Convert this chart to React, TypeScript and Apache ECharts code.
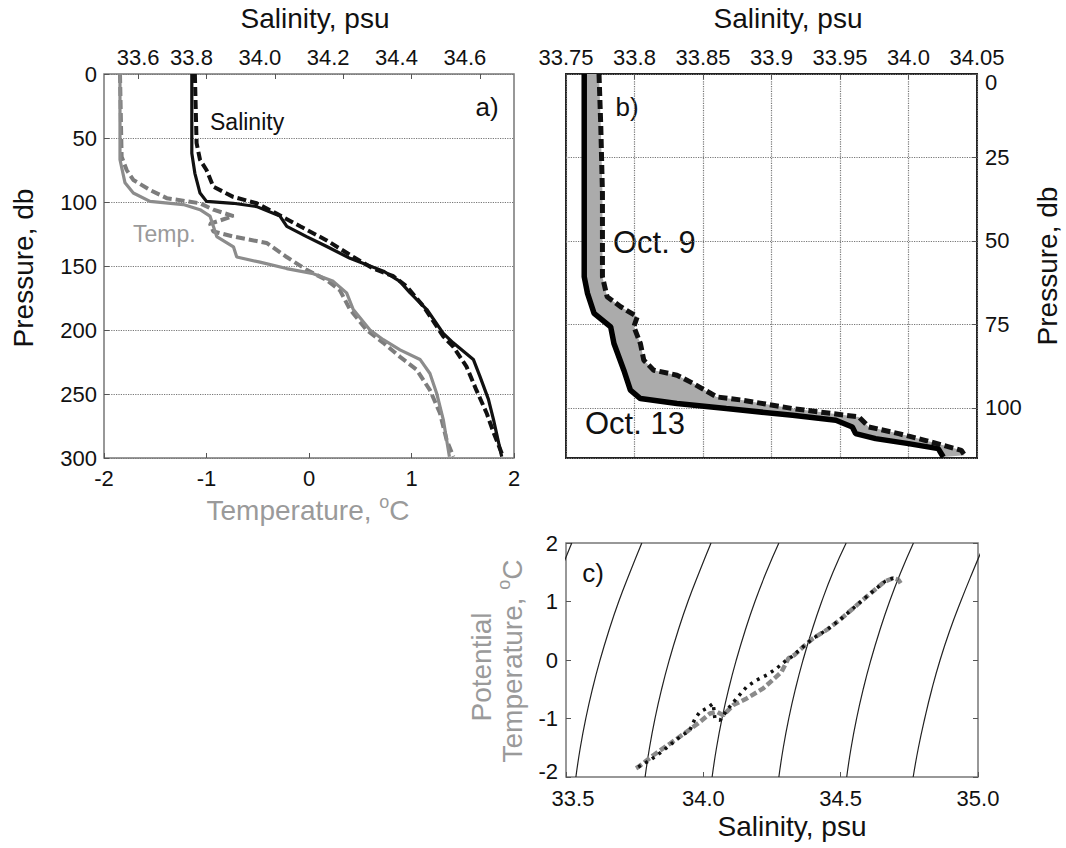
import React, { useEffect, useRef } from "react";
import * as echarts from "echarts";

// ---------- Panel a: profiles vs pressure ----------
const SAL_SOLID_A: number[][] = [
  [33.757, 0], [33.757, 62], [33.766, 77.6], [33.781, 93], [33.8, 99.5], [33.878, 101], [33.947, 103.6],
  [34.015, 111], [34.035, 119], [34.093, 127], [34.152, 134.8], [34.22, 144], [34.269, 149], [34.318, 154],
  [34.366, 162], [34.396, 171], [34.445, 184], [34.493, 202.6], [34.522, 210], [34.581, 223], [34.6, 236],
  [34.625, 254], [34.64, 270], [34.664, 299],
];
const SAL_DASHED_A: number[][] = [
  [33.766, 0], [33.771, 54], [33.781, 67], [33.8, 75], [33.82, 88], [33.878, 96], [33.947, 101],
  [34.005, 109], [34.074, 119], [34.152, 130], [34.23, 143], [34.288, 152], [34.347, 158], [34.386, 166],
  [34.435, 181.5], [34.493, 205], [34.522, 213], [34.561, 228.6], [34.59, 247], [34.62, 265], [34.64, 280],
  [34.668, 299],
];
const TEMP_SOLID_A: number[][] = [
  [-1.844, 0], [-1.844, 67], [-1.795, 85], [-1.714, 93], [-1.551, 99.5], [-1.226, 102], [-1.063, 106],
  [-0.966, 111], [-0.933, 119], [-0.9, 127], [-0.737, 135], [-0.705, 143], [-0.478, 147], [-0.218, 152],
  [0.042, 156], [0.237, 162], [0.367, 171], [0.432, 184], [0.595, 200], [0.725, 207.6], [0.888, 215.5],
  [1.083, 223], [1.18, 234], [1.246, 249.6], [1.31, 270], [1.343, 286], [1.37, 299],
];
const TEMP_DASHED_A: number[][] = [
  [-1.844, 0], [-1.828, 64.6], [-1.779, 75], [-1.714, 82.8], [-1.551, 90.6], [-1.388, 97], [-1.063, 101],
  [-0.933, 106], [-0.737, 111], [-0.966, 117], [-0.933, 123], [-0.737, 127], [-0.414, 132], [-0.218, 143],
  [-0.023, 153], [0.172, 161], [0.302, 169], [0.4, 184], [0.563, 200], [0.725, 210], [0.888, 221],
  [1.05, 231], [1.18, 247], [1.278, 265], [1.343, 286], [1.408, 299],
];
const SAL_TICKS_A = [33.6, 33.8, 34.0, 34.2, 34.4, 34.6];

// ---------- Panel b: salinity profiles, upper 115 db ----------
const OCT13_B: number[][] = [
  [33.7633, 0], [33.7633, 60.7], [33.7657, 65.7], [33.7705, 71.7], [33.7826, 75.7], [33.785, 80.7],
  [33.7922, 88.7], [33.797, 94.7], [33.8043, 97.2], [33.831, 98.7], [33.867, 100.2], [33.9154, 102.2],
  [33.947, 103.7], [33.959, 105.7], [33.9614, 107.7], [33.976, 109.2], [34.0, 110.7], [34.0217, 112.2],
  [34.0254, 114.7],
];
const OCT9_B: number[][] = [
  [33.7741, 0], [33.7754, 15.7], [33.7766, 35.7], [33.7766, 60.7], [33.78, 66.7], [33.7899, 69.7],
  [33.802, 72.7], [33.7995, 75.7], [33.8043, 80.7], [33.8068, 85.7], [33.814, 88.7], [33.831, 90.2],
  [33.843, 92.7], [33.86, 96.7], [33.8792, 97.7], [33.9154, 100.2], [33.9638, 102.7], [33.971, 105.7],
  [33.9928, 107.7], [34.012, 109.7], [34.0386, 112.7], [34.041, 114.2],
];

// ---------- Panel c: T-S diagram ----------
const ISO_T = [-2, -1.5, -1, -0.5, 0, 0.5, 1, 1.5, 2];
const ISO_S: number[][] = [
  [33.281, 33.297, 33.317, 33.341, 33.369, 33.401, 33.437, 33.478, 33.521],
  [33.536, 33.552, 33.572, 33.596, 33.624, 33.656, 33.692, 33.733, 33.776],
  [33.788, 33.804, 33.824, 33.848, 33.876, 33.908, 33.944, 33.985, 34.028],
  [34.032, 34.048, 34.068, 34.092, 34.12, 34.152, 34.188, 34.229, 34.275],
  [34.275, 34.291, 34.311, 34.335, 34.363, 34.395, 34.431, 34.472, 34.52],
  [34.522, 34.538, 34.558, 34.582, 34.61, 34.642, 34.678, 34.719, 34.765],
  [34.764, 34.783, 34.806, 34.832, 34.862, 34.897, 34.937, 34.98, 35.025],
];
const TS_GREY: number[][] = [
  [33.755, -1.85], [33.763, -1.829], [33.818, -1.628], [33.879, -1.428], [33.939, -1.228], [33.988, -1.057],
  [34.024, -0.914], [34.049, -0.886], [34.073, -0.943], [34.109, -0.771], [34.158, -0.657], [34.218, -0.485],
  [34.255, -0.33], [34.285, -0.2], [34.31, 0.03], [34.33, 0.08], [34.364, 0.228], [34.4, 0.372],
  [34.449, 0.514], [34.497, 0.686], [34.546, 0.886], [34.595, 1.085], [34.631, 1.228], [34.661, 1.342],
  [34.691, 1.4], [34.71, 1.371], [34.722, 1.285],
];
const TS_BLACK: number[][] = [
  [33.763, -1.829], [33.806, -1.714], [33.848, -1.571], [33.885, -1.428], [33.915, -1.314], [33.951, -1.2],
  [33.97, -1.0], [33.988, -0.886], [34.012, -0.828], [34.036, -0.743], [34.042, -1.0], [34.061, -1.03],
  [34.091, -0.828], [34.121, -0.657], [34.158, -0.457], [34.194, -0.343], [34.231, -0.257], [34.267, -0.143],
  [34.303, 0.0], [34.322, 0.057], [34.364, 0.228], [34.4, 0.372], [34.449, 0.514], [34.497, 0.686],
  [34.546, 0.886], [34.595, 1.085], [34.631, 1.228], [34.661, 1.342], [34.691, 1.4], [34.71, 1.371],
];

const FONT = "'Liberation Sans', Arial, Helvetica, sans-serif";
const GREY = "#8c8c8c";
const TEXT_GREY = "#9a9a9a";

export default function App() {
  const ref = useRef<HTMLDivElement>(null);
  useEffect(() => {
    document.body.style.margin = "0";
    if (!ref.current) return;
    const chart = echarts.init(ref.current, undefined, { renderer: "svg" });

    const label = (extra: any = {}) => ({
      fontSize: 22, color: "#111", fontFamily: FONT, margin: 8, ...extra,
    });
    const tok = (extra: any = {}) => ({ fontSize: 22, color: "#111", fontFamily: FONT, ...extra });
    const tick = { inside: true, length: 5, lineStyle: { color: "#555", width: 1 } };
    const noLine = { show: false, onZero: false };
    const dotted = { show: true, lineStyle: { type: "dotted", color: "#777", width: 1.2 } };
    const fmt1 = (v: number) => v.toFixed(1);
    const fmtB = (v: number) => {
      const s = v.toFixed(2);
      return s.endsWith("0") ? v.toFixed(1) : s;
    };

    const isoSeries = ISO_S.map((row) => ({
      type: "line", xAxisIndex: 3, yAxisIndex: 2, showSymbol: false, smooth: true, silent: true,
      data: row.map((s, i) => [s, ISO_T[i]]),
      lineStyle: { color: "#222", width: 1.2 },
      z: 2,
    }));

    const text = (t: string, x: number, y: number, extra: any = {}, styleExtra: any = {}) => ({
      type: "text", x, y, silent: true, ...extra,
      style: {
        text: t, fontSize: 28, fontFamily: FONT, fill: "#111",
        align: "center", verticalAlign: "middle", ...styleExtra,
      },
    });
    const tempRich = {
      t: { fontSize: 28, fill: TEXT_GREY, fontFamily: FONT, lineHeight: 34 },
      s: { fontSize: 18, fill: TEXT_GREY, fontFamily: FONT, verticalAlign: "top", lineHeight: 22 },
    };

    const option: any = {
      animation: false,
      backgroundColor: "#ffffff",
      textStyle: { fontFamily: FONT },
      grid: [
        { left: 104, top: 74, width: 410, height: 384, show: true, borderColor: "#777", borderWidth: 1.5, backgroundColor: "transparent" },
        { left: 566, top: 74, width: 411, height: 384, show: true, borderColor: "#222", borderWidth: 2, backgroundColor: "transparent" },
        { left: 566, top: 543, width: 412, height: 234, show: true, borderColor: "#777", borderWidth: 1.5, backgroundColor: "transparent" },
      ],
      xAxis: [
        {
          gridIndex: 0, type: "value", position: "bottom", min: -2, max: 2, interval: 1,
          axisLine: noLine, axisTick: tick, splitLine: { show: false },
          axisLabel: label({ margin: 9 }),
        },
        {
          gridIndex: 0, type: "value", position: "top", min: 33.5, max: 34.7,
          axisLine: noLine,
          axisTick: { ...tick, customValues: SAL_TICKS_A },
          splitLine: { show: false },
          axisLabel: label({
            customValues: SAL_TICKS_A, margin: 6,
            formatter: (v: number) => (Math.abs(v - 33.6) < 1e-6 ? "{n|33.6}" : "{p|" + v.toFixed(1) + "}"),
            rich: { n: tok(), p: tok({ padding: [0, 30, 0, 0] }) },
          }),
        },
        {
          gridIndex: 1, type: "value", position: "top", min: 33.75, max: 34.05, interval: 0.05,
          axisLine: noLine, axisTick: tick, splitLine: dotted,
          axisLabel: label({ formatter: fmtB, margin: 6 }),
        },
        {
          gridIndex: 2, type: "value", position: "bottom", min: 33.5, max: 35, interval: 0.5,
          axisLine: noLine, axisTick: tick, splitLine: { show: false },
          axisLabel: label({
            margin: 10,
            formatter: (v: number) => (Math.abs(v - 33.5) < 1e-6 ? "{m|33.5}" : "{n|" + fmt1(v) + "}"),
            rich: { m: tok({ padding: [0, 0, 0, 14] }), n: tok() },
          }),
        },
      ],
      yAxis: [
        {
          gridIndex: 0, type: "value", inverse: true, min: 0, max: 300, interval: 50, position: "left",
          axisLine: noLine, axisTick: tick, splitLine: dotted,
          axisLabel: label({ margin: 7 }),
        },
        {
          gridIndex: 1, type: "value", inverse: true, min: 0, max: 115, interval: 25, position: "right",
          axisLine: noLine, axisTick: tick, splitLine: dotted,
          axisLabel: label({
            showMaxLabel: false, margin: 8,
            formatter: (v: number) => (v === 0 ? "{z|0}" : "{n|" + v + "}"),
            rich: { z: tok({ padding: [16, 0, 0, 0] }), n: tok() },
          }),
        },
        {
          gridIndex: 2, type: "value", min: -2, max: 2, interval: 1, position: "left",
          axisLine: noLine, axisTick: tick, splitLine: { show: false },
          axisLabel: label({
            margin: 8,
            formatter: (v: number) => (v === -2 ? "{z|-2}" : "{n|" + v + "}"),
            rich: { z: tok({ padding: [0, 0, 12, 0] }), n: tok() },
          }),
        },
        {
          gridIndex: 2, type: "value", min: -2, max: 2, interval: 1, position: "right",
          axisLine: noLine, axisTick: tick, splitLine: { show: false },
          axisLabel: { show: false },
        },
      ],
      series: [
        // panel a
        { type: "line", xAxisIndex: 1, yAxisIndex: 0, data: SAL_DASHED_A, showSymbol: false, silent: true,
          lineStyle: { color: "#111", width: 4, type: [9, 4] }, z: 3 },
        { type: "line", xAxisIndex: 1, yAxisIndex: 0, data: SAL_SOLID_A, showSymbol: false, silent: true,
          lineStyle: { color: "#111", width: 3.2 }, z: 4 },
        { type: "line", xAxisIndex: 0, yAxisIndex: 0, data: TEMP_DASHED_A, showSymbol: false, silent: true,
          lineStyle: { color: "#7d7d7d", width: 4, type: [9, 4] }, z: 3 },
        { type: "line", xAxisIndex: 0, yAxisIndex: 0, data: TEMP_SOLID_A, showSymbol: false, silent: true,
          lineStyle: { color: GREY, width: 3.2 }, z: 4 },
        // panel b
        {
          type: "custom", xAxisIndex: 2, yAxisIndex: 1, data: [[33.9, 50]], silent: true, z: 1, clip: true,
          renderItem: (params: any, api: any) => {
            if (params.dataIndex !== 0) return null;
            const pts = OCT13_B.map((d) => api.coord(d)).concat(
              OCT9_B.slice().reverse().map((d) => api.coord(d))
            );
            return { type: "polygon", shape: { points: pts }, style: { fill: "#ababab" } };
          },
        },
        { type: "line", xAxisIndex: 2, yAxisIndex: 1, data: OCT13_B, showSymbol: false, silent: true,
          lineStyle: { color: "#000", width: 5.5 }, z: 4 },
        { type: "line", xAxisIndex: 2, yAxisIndex: 1, data: OCT9_B, showSymbol: false, silent: true,
          lineStyle: { color: "#111", width: 5, type: [9, 4] }, z: 5 },
        // panel c
        ...isoSeries,
        { type: "line", xAxisIndex: 3, yAxisIndex: 2, data: TS_GREY, showSymbol: false, silent: true,
          lineStyle: { color: "#8a8a8a", width: 4.5, type: [7, 3] }, z: 4 },
        { type: "line", xAxisIndex: 3, yAxisIndex: 2, data: TS_BLACK, showSymbol: false, silent: true,
          lineStyle: { color: "#111", width: 3.5, type: [3, 5] }, z: 5 },
      ],
      graphic: {
        elements: [
          text("Salinity, psu", 315, 18),
          text("Salinity, psu", 788, 18),
          text("Pressure, db", 23, 268, { rotation: Math.PI / 2 }),
          text("Pressure, db", 1047, 266, { rotation: Math.PI / 2 }),
          text("", 308, 510, {}, { text: "{t|Temperature, }{s|o}{t|C}", rich: tempRich }),
          text("Salinity, psu", 792, 826),
          text("Potential", 481, 667, { rotation: Math.PI / 2 }, { fill: TEXT_GREY }),
          text("", 512, 661, { rotation: Math.PI / 2 }, { text: "{t|Temperature, }{s|o}{t|C}", rich: tempRich }),
          text("a)", 487, 107, {}, { fontSize: 26 }),
          text("Salinity", 210, 122, {}, { fontSize: 23, align: "left" }),
          text("Temp.", 133, 234, {}, { fontSize: 23, align: "left", fill: TEXT_GREY }),
          text("b)", 627, 107, {}, { fontSize: 26 }),
          text("Oct. 9", 613, 242, {}, { fontSize: 31, align: "left" }),
          text("Oct. 13", 585, 423, {}, { fontSize: 31, align: "left" }),
          text("c)", 593, 573, {}, { fontSize: 26 }),
        ],
      },
    };

    chart.setOption(option);
    return () => chart.dispose();
  }, []);

  return <div ref={ref} style={{ width: 1066, height: 848 }} />;
}
